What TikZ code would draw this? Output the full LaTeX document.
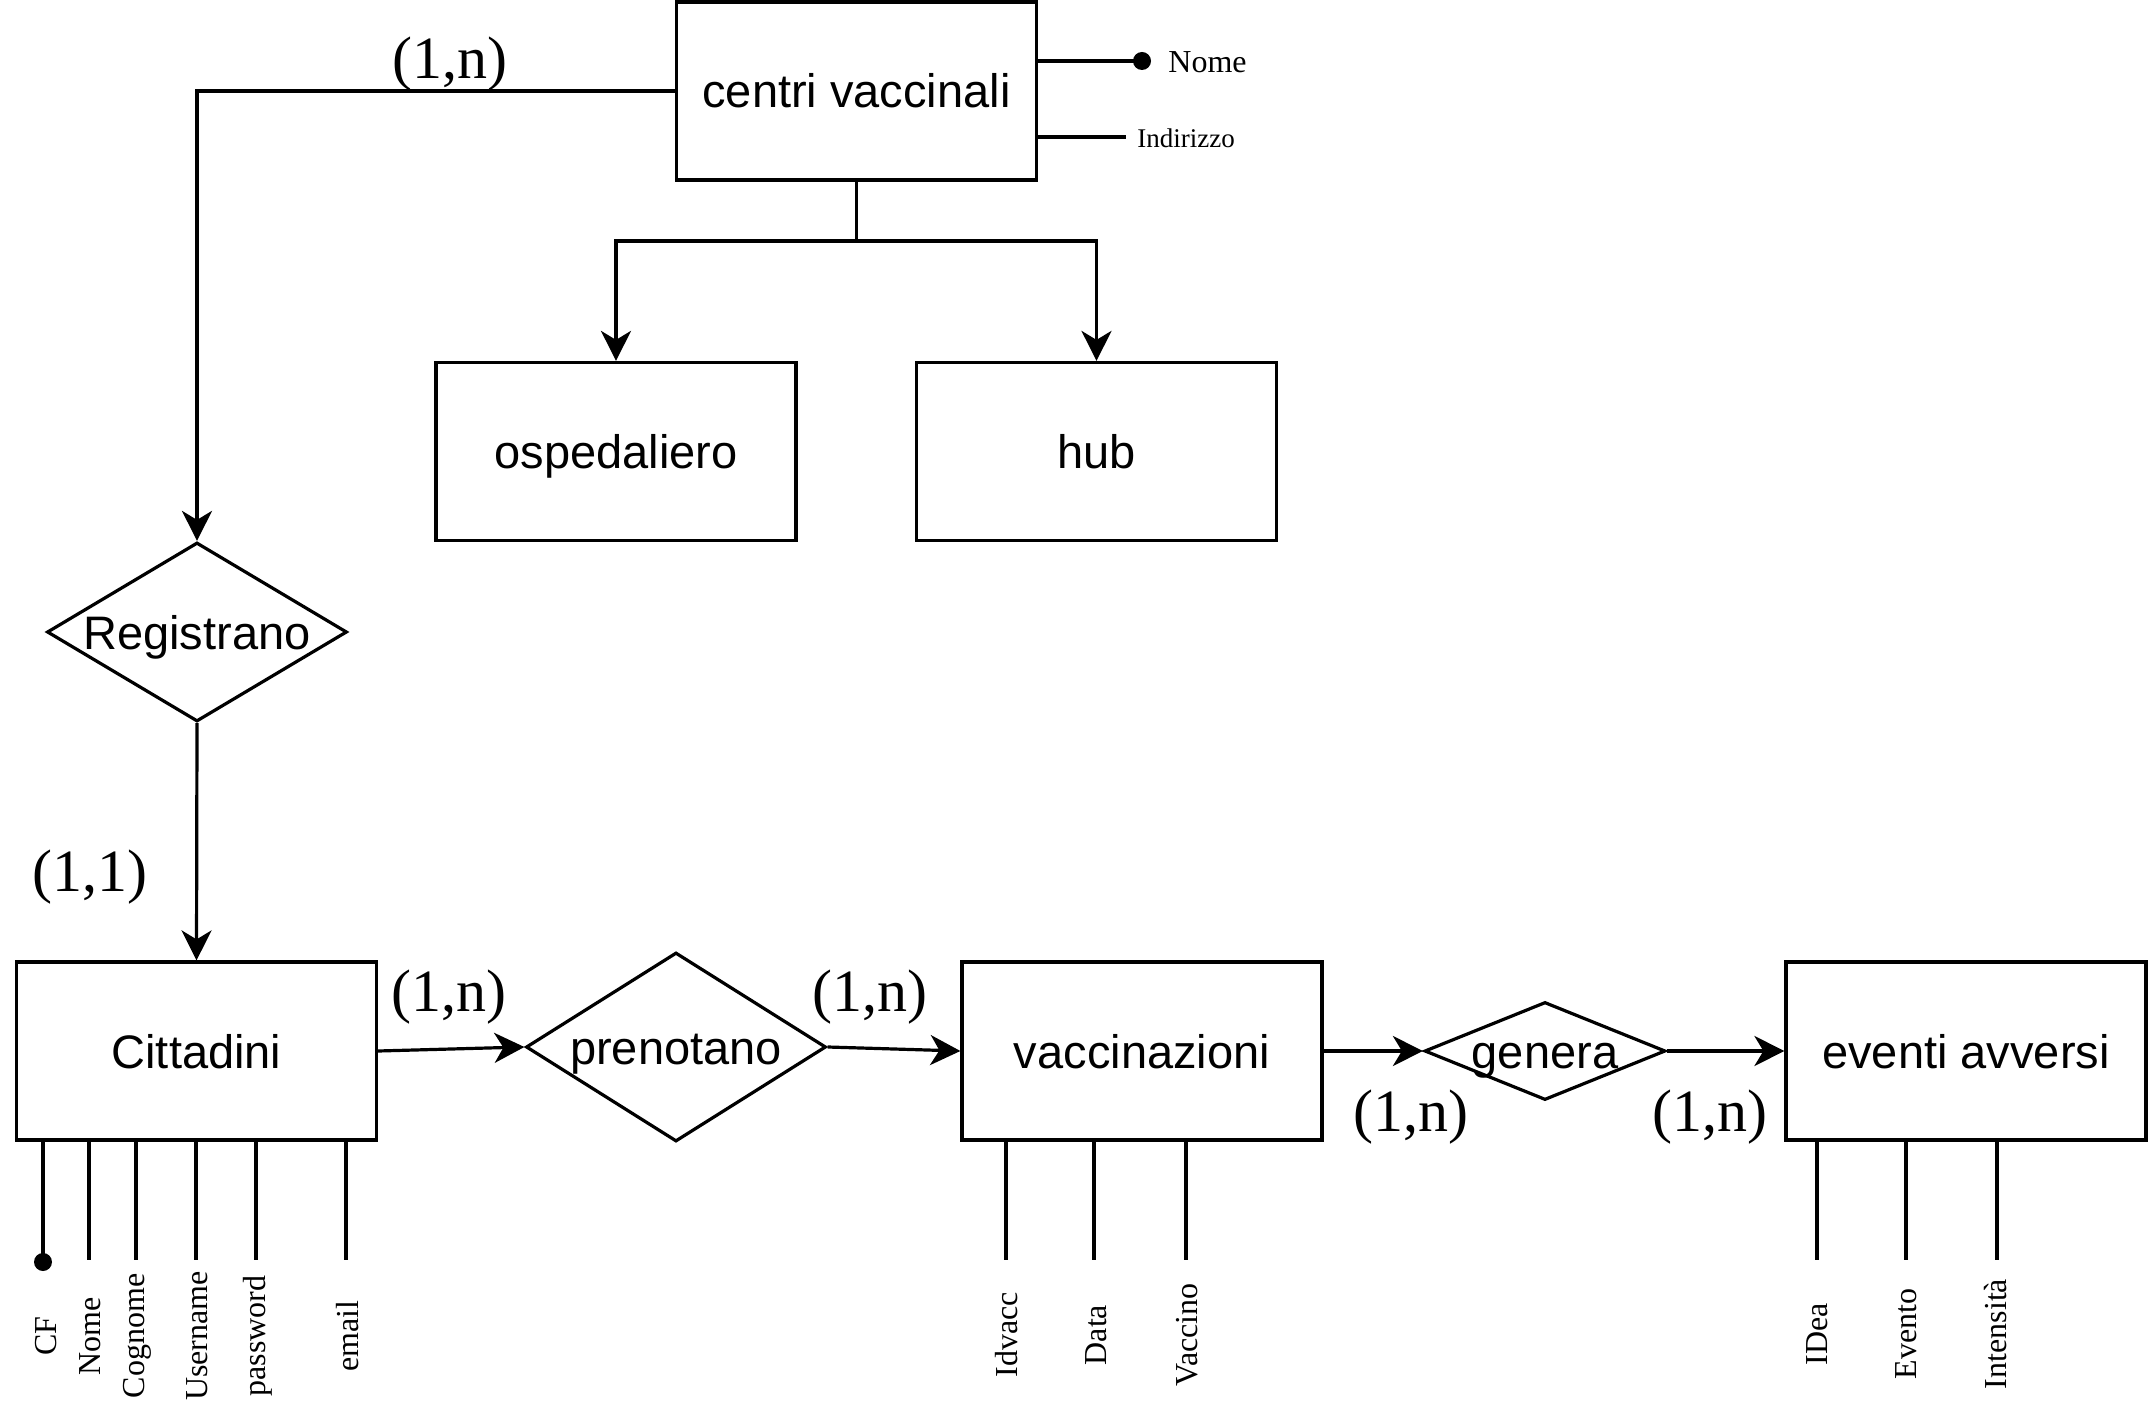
\documentclass[tikz,border=0pt]{standalone}
\usepackage{fontspec}
\setmainfont{Liberation Serif}
\newfontfamily\sansf{Liberation Sans}
\usetikzlibrary{arrows.meta,shapes.geometric}
\begin{document}
\begin{tikzpicture}[x=0.5pt,y=-0.5pt,
 ln/.style={line width=1.6pt},
 ent/.style={draw,line width=1.6pt,minimum width=180pt,minimum height=89pt,inner sep=0pt,text height=17pt,text depth=0pt,font=\sansf\fontsize{23.5pt}{28pt}\selectfont},
 rel/.style={draw,diamond,line width=1.6pt,inner sep=0pt},
 rtext/.style={inner sep=0pt,text height=17pt,text depth=0pt,font=\sansf\fontsize{23.5pt}{28pt}\selectfont},
 card/.style={inner sep=0pt,font=\fontsize{30pt}{36pt}\selectfont},
 attr/.style={inner sep=0pt,rotate=90,font=\fontsize{16pt}{19pt}\selectfont},
 arr/.style={line width=1.6pt,-{Stealth[length=15pt,width=15pt,inset=4.5pt]}},
]
\path[use as bounding box, fill=white] (0,0) rectangle (2148,1428);

\node[ent] (cv) at (856.5,91) {centri vaccinali};
\node[ent] (osp) at (616,451.5) {ospedaliero};
\node[ent] (hub) at (1096.5,451.5) {hub};
\node[rel, minimum width=150pt, minimum height=89.5pt, label={[rtext]center:Registrano}] (reg) at (197,632) {};
\node[ent] (cit) at (196.5,1051) {Cittadini};
\node[rel, minimum width=150pt, minimum height=94.5pt, label={[rtext]center:prenotano}] (pren) at (676,1047) {};
\node[ent] (vacc) at (1142,1051) {vaccinazioni};
\node[rel, minimum width=120.5pt, minimum height=49pt, label={[rtext]center:genera}] (gen) at (1545,1051) {};
\node[ent] (ev) at (1966,1051) {eventi avversi};

% connectors
\coordinate (split) at (856.5,241);
\draw[ln] (cv.south) -- (split);
\draw[arr] (split) -| (osp.north);
\draw[arr] (split) -| (hub.north);
\draw[arr] (cv.west) -| (reg.north);
\draw[arr] (reg.south) -- (cit.north);
\draw[arr] (cit.east) -- (pren.west);
\draw[arr] (pren.east) -- (vacc.west);
\draw[arr] (vacc.east) -- (gen.west);
\draw[arr] (gen.east) -- (ev.west);

% top attributes
\coordinate (nomeE) at (1142,61);
\draw[ln] (cv.east |- nomeE) -- (nomeE);
\fill (nomeE) circle (4.5pt);
\node[anchor=west, inner sep=0pt, font=\fontsize{16pt}{19pt}\selectfont] (nome) at (1168,62) {Nome};
\coordinate (indE) at (1126,137);
\draw[ln] (cv.east |- indE) -- (indE);
\node[anchor=west, inner sep=0pt, font=\fontsize{13.5pt}{16pt}\selectfont] (ind) at (1137,138) {Indirizzo};

% Cittadini attributes
\foreach \lx/\tx/\nm/\t in {43/46/aCF/CF, 89/90/aNome/Nome, 136/137/aCog/Cognome, 196/197/aUser/Username, 256/258/aPw/password, 346/348/aMail/email}{
  \coordinate (\nm-e) at (\lx,1260);
  \draw[ln] (\nm-e |- cit.south) -- (\nm-e);
  \node[attr] (\nm) at (\tx,1336) {\t};
}
\fill (aCF-e) ++(0,2) circle (4.5pt);

% vaccinazioni attributes
\foreach \lx/\tx/\nm/\t in {1006/1007/aId/Idvacc, 1094/1096/aData/Data, 1186/1187/aVac/Vaccino}{
  \coordinate (\nm-e) at (\lx,1260);
  \draw[ln] (\nm-e |- vacc.south) -- (\nm-e);
  \node[attr] (\nm) at (\tx,1335) {\t};
}

% eventi avversi attributes
\foreach \lx/\tx/\nm/\t in {1817/1817/aIdea/IDea, 1906/1906/aEv/Evento, 1997/1996/aInt/Intensità}{
  \coordinate (\nm-e) at (\lx,1260);
  \draw[ln] (\nm-e |- ev.south) -- (\nm-e);
  \node[attr] (\nm) at (\tx,1334) {\t};
}

% cardinalities
\node[card] (c1) at (450,64) {(1,n)};
\node[card] (c2) at (90,877) {(1,1)};
\node[card] (c3) at (449,997) {(1,n)};
\node[card] (c4) at (870,997) {(1,n)};
\node[card] (c5) at (1411,1117) {(1,n)};
\node[card] (c6) at (1710,1117) {(1,n)};
\end{tikzpicture}
\end{document}
